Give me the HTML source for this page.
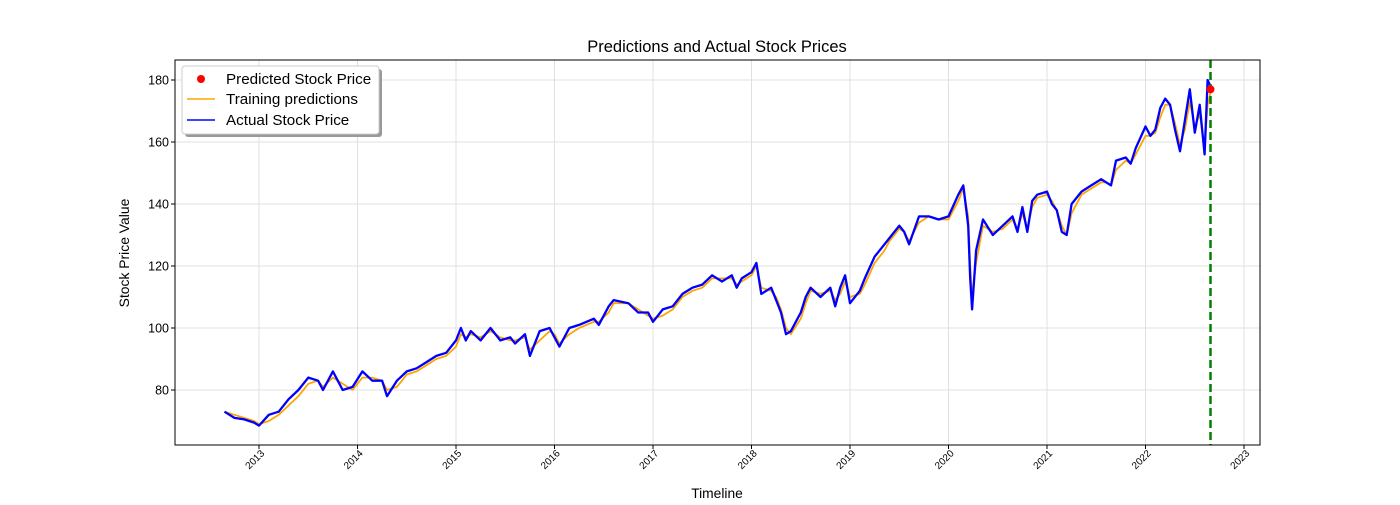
<!DOCTYPE html>
<html><head><meta charset="utf-8"><style>
body{margin:0;background:#fff}
svg{font-family:"Liberation Sans",sans-serif}
</style></head><body>
<svg id="chart" width="1400" height="500" xmlns="http://www.w3.org/2000/svg">
<rect width="1400" height="500" fill="#fff"/>
<g id="grid"></g><g id="series"></g><g id="axes"></g>
</svg>
<script>
const dates=[2012.65,2012.75,2012.85,2012.95,2013.0,2013.1,2013.2,2013.3,2013.4,2013.5,2013.6,2013.65,2013.75,2013.85,2013.95,2014.05,2014.15,2014.25,2014.3,2014.4,2014.5,2014.6,2014.7,2014.8,2014.9,2015.0,2015.05,2015.1,2015.15,2015.25,2015.35,2015.45,2015.55,2015.6,2015.7,2015.75,2015.85,2015.95,2016.0,2016.05,2016.15,2016.25,2016.4,2016.45,2016.55,2016.6,2016.75,2016.85,2016.95,2017.0,2017.1,2017.2,2017.3,2017.4,2017.5,2017.6,2017.7,2017.8,2017.85,2017.9,2018.0,2018.05,2018.1,2018.2,2018.25,2018.3,2018.35,2018.4,2018.5,2018.55,2018.6,2018.7,2018.8,2018.85,2018.9,2018.95,2019.0,2019.1,2019.15,2019.25,2019.35,2019.4,2019.5,2019.55,2019.6,2019.7,2019.8,2019.9,2020.0,2020.1,2020.15,2020.2,2020.22,2020.24,2020.28,2020.35,2020.45,2020.55,2020.65,2020.7,2020.75,2020.8,2020.85,2020.9,2021.0,2021.05,2021.1,2021.15,2021.2,2021.25,2021.35,2021.45,2021.55,2021.6,2021.65,2021.7,2021.8,2021.85,2021.9,2022.0,2022.05,2022.1,2022.15,2022.2,2022.25,2022.3,2022.35,2022.4,2022.45,2022.5,2022.55,2022.6,2022.63,2022.66];
const actual=[73,71,70.5,69.5,68.5,72,73,77,80,84,83,80,86,80,81,86,83,83,78,83,86,87,89,91,92,96,100,96,99,96,100,96,97,95,98,91,99,100,97,94,100,101,103,101,107,109,108,105,105,102,106,107,111,113,114,117,115,117,113,116,118,121,111,113,109,105,98,99,105,110,113,110,113,107,113,117,108,112,116,123,127,129,133,131,127,136,136,135,136,143,146,133,116,106,125,135,130,133,136,131,139,131,141,143,144,140,138,131,130,140,144,146,148,147,146,154,155,153,158,165,162,164,171,174,172,164,157,167,177,163,172,156,180,178];
const predicted=[73,72,71,70,69,70,72,75,78,82,83,81,84,82,80,84,84,83,80,81,85,86,88,90,91,94,98,97,98,97,99,97,96,96,97,93,96,99,98,95,98,100,102,102,105,108,108,106,104,103,104,106,110,112,113,116,116,116,114,115,117,120,113,112,110,106,100,98,103,108,112,111,112,109,111,115,110,111,114,121,125,128,132,131,128,134,136,135,135,141,145,136,120,110,121,133,131,132,135,132,137,132,139,142,143,141,138,133,130,137,143,145,147,147,146,151,154,153,156,162,162,163,168,172,172,166,159,164,173,165,169,158,172,176];
const yTicks=[80,100,120,140,160,180];
const xTicks=[2013,2014,2015,2016,2017,2018,2019,2020,2021,2022,2023];
const predPoint=[2022.66,177];
const L=175,R=1260,T=60,B=445;
const X=v=>259+(v-2013)*98.5;
const Y=v=>390-(v-80)*3.1;
const NS="http://www.w3.org/2000/svg";
function mk(tag,attrs,parent){const e=document.createElementNS(NS,tag);for(const k in attrs)e.setAttribute(k,attrs[k]);parent.appendChild(e);return e;}
const grid=document.getElementById('grid'),series=document.getElementById('series'),axes=document.getElementById('axes');
yTicks.forEach(v=>{const g=mk('line',{x1:L,x2:R,y1:Y(v),y2:Y(v),stroke:'#e0e0e0','stroke-width':1},grid);


const t=mk('text',{x:L-6,y:Y(v)+4.5,'text-anchor':'end','font-size':12.5,fill:'#000'},axes);t.textContent=v;


mk('line',{x1:L-4,x2:L,y1:Y(v),y2:Y(v),stroke:'#000'},axes);});
xTicks.forEach(v=>{const g=mk('line',{x1:X(v),x2:X(v),y1:T,y2:B,stroke:'#e0e0e0','stroke-width':1},grid);


mk('line',{x1:X(v),x2:X(v),y1:B,y2:B+4,stroke:'#000'},axes);
const ax=X(v)+6,ay=B+9;
const t=mk('text',{x:ax,y:ay,'text-anchor':'end','font-size':10,transform:`rotate(-45 ${ax} ${ay})`},axes);t.textContent=v;

});
function path(vals,color,w,name){const d=vals.map((v,i)=>(i?'L':'M')+X(dates[i]).toFixed(1)+' '+Y(v).toFixed(1)).join(' ');
const p=mk('path',{d:d,fill:'none',stroke:color,'stroke-width':w,'stroke-linejoin':'round'},series);

}
path(predicted,'orange',1.8,'training-predictions-line');
path(actual,'blue',2.3,'actual-price-line');
const gl=mk('line',{x1:X(predPoint[0]),x2:X(predPoint[0]),y1:T,y2:B,stroke:'green','stroke-width':2.5,'stroke-dasharray':'8,4'},series);


const pc=mk('circle',{cx:X(predPoint[0]),cy:Y(predPoint[1]),r:4,fill:'red'},series);


const fr=mk('rect',{x:L,y:T,width:R-L,height:B-T,fill:'none',stroke:'#000','stroke-width':1},axes);


function txt(s,a,name){const t=mk('text',a,axes);t.textContent=s;

return t;}
txt('Predictions and Actual Stock Prices',{x:717,y:52,'text-anchor':'middle','font-size':16.5},'chart-title');
txt('Timeline',{x:717,y:498,'text-anchor':'middle','font-size':13.8},'x-axis-title');
txt('Stock Price Value',{x:129,y:253,'text-anchor':'middle','font-size':13.9,transform:'rotate(-90 129 253)'},'y-axis-title');
const lg=mk('g',{},axes);


mk('rect',{x:185,y:69,width:197,height:68,fill:'#999',rx:3},lg);
mk('rect',{x:182,y:66,width:197,height:68,fill:'#fff',stroke:'#ccc',rx:3},lg);
mk('circle',{cx:201,cy:79,r:4,fill:'red'},lg);
mk('line',{x1:187,x2:215,y1:99,y2:99,stroke:'orange','stroke-width':1.6},lg);
mk('line',{x1:187,x2:215,y1:120,y2:120,stroke:'blue','stroke-width':1.6},lg);
[['Predicted Stock Price',84],['Training predictions',104],['Actual Stock Price',125]].forEach(([s,y])=>{const t=mk('text',{x:226,y:y,'font-size':15.2},lg);t.textContent=s;

});
</script>
</body></html>
